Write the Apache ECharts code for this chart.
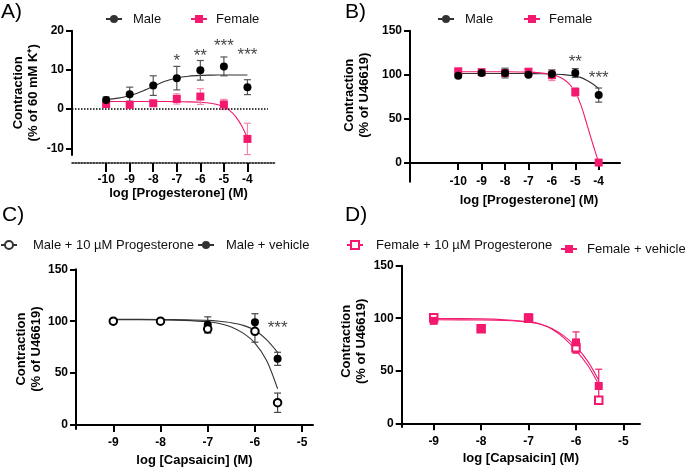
<!DOCTYPE html>
<html><head><meta charset="utf-8">
<script src="https://cdn.jsdelivr.net/npm/echarts@6/dist/echarts.min.js"></script>
<style>html,body{margin:0;padding:0;background:#fff}#c{width:685px;height:468px}</style>
</head><body><div id="c"></div><script>
// ---------- data ----------
const xProg = [-10, -9, -8, -7, -6, -5, -4];
const xCap = [-9, -8, -7, -6, -5.52];
const progTicks = [-10, -9, -8, -7, -6, -5, -4];
const capTicks = [-9, -8, -7, -6, -5];
const aYTicks = [-10, 0, 10, 20];
const bYTicks = [0, 50, 100, 150];

// Panel A (% of 60 mM K+)
const aMaleY = [2.3, 3.8, 6.0, 7.9, 9.9, 10.9, 5.6];
const aMaleE = [0.8, 1.8, 2.5, 3.0, 2.5, 2.4, 1.9];
const aFemY = [1.3, 1.1, 1.5, 2.6, 3.2, 1.2, -7.6];
const aFemE = [0.5, 0.4, 0.5, 1.3, 2.0, 1.3, 4.0];
const aMaleFitX = [-10, -9.5, -9, -8.5, -8, -7.5, -7, -6.5, -6, -5.5, -5, -4.5, -4];
const aMaleFitY = [2.4, 2.8, 3.4, 4.5, 5.8, 7.1, 7.95, 8.4, 8.6, 8.67, 8.7, 8.7, 8.7];
const aFemFitX = [-10, -9, -8, -7, -6.5, -6, -5.5, -5.25, -5, -4.75, -4.5, -4.25, -4];
const aFemFitY = [1.95, 1.95, 1.95, 1.9, 1.85, 1.75, 1.45, 1.1, 0.55, -0.4, -1.9, -4.2, -7.4];
const aStarX = [-7, -6, -5, -4];
const aStarY = [12.1, 13.4, 15.9, 13.6];
const aStarT = ['*', '**', '***', '***'];

// Panel B (% of U46619)
const bMaleY = [99, 102, 102, 100, 101, 102, 77];
const bMaleE = [1.5, 1.5, 5.5, 1.5, 4.5, 5, 8];
const bFemY = [104, 103, 102, 103.5, 99.5, 80.5, 0.5];
const bFemE = [2, 1.5, 2, 2, 6, 5, 1];
const bMaleFitX = [-10, -9, -8, -7, -6.5, -6, -5.5, -5, -4.75, -4.5, -4.25, -4];
const bMaleFitY = [101.5, 101.5, 101.5, 101.4, 101.2, 100.9, 100.2, 98.6, 96.8, 93.5, 89.5, 84.5];
const bFemFitX = [-10, -9, -8, -7, -6.5, -6, -5.75, -5.5, -5.25, -5, -4.75, -4.5, -4.25, -4];
const bFemFitY = [103.5, 103.5, 103.4, 103, 102.2, 100.3, 98.3, 95, 89.5, 80.5, 65, 43.5, 21.5, 0.5];
const bStarX = [-5, -4];
const bStarY = [114.7, 95.8];
const bStarT = ['**', '***'];

// Panel C (male, capsaicin)
const cVehY = [100, 100, 96.7, 98.9, 63.8];
const cVehE = [1, 1, 7.5, 8.3, 6.3];
const cProY = [100, 100, 92.6, 90.3, 21.5];
const cProE = [1, 1, 4, 10.5, 9.3];
const cFitX = [-9, -8, -7.5, -7, -6.75, -6.5, -6.25, -6, -5.75, -5.52];
const cVehFitY = [101.8, 101.7, 101.4, 100.8, 99.9, 98.5, 96, 91.3, 82, 70];
const cProFitY = [101.5, 101.3, 100.8, 99.5, 97.8, 94.5, 88.5, 79, 62, 35];
const cStarX = [-5.52];
const cStarY = [93.3];
const cStarT = ['***'];

// Panel D (female, capsaicin)
const dVehY = [97.5, 90.5, 101, 77, 35.5];
const dVehE = [1, 1.5, 2, 10, 16];
const dProY = [100.5, 90, 100, 72, 22];
const dProE = [1, 1.5, 1.5, 5, 2];
const dFitX = [-9, -8, -7.5, -7, -6.75, -6.5, -6.25, -6, -5.75, -5.52];
const dVehFitY = [98.6, 98.3, 97.8, 96.3, 94.3, 90, 83, 73, 59, 41];
const dProFitY = [99.8, 99.4, 98.6, 96.8, 94.5, 89.5, 81, 69.5, 55, 37];

// ---------- styling ----------
const PINK = '#F2196F';
const PINK_ERR = '#F585AE';
const BLACK = '#000';
const GREY = '#333';
const FONT = 'Liberation Sans, Arial, sans-serif';

const zip = (xs, ys) => xs.map((x, i) => [x, ys[i]]);

function curve(idx, name, xs, ys, color, symbol) {
  return { type: 'line', name, xAxisIndex: idx, yAxisIndex: idx, data: zip(xs, ys),
    smooth: 0.3, showSymbol: false, symbol, symbolSize: 8,
    lineStyle: { width: 1.1, color }, itemStyle: { color }, z: 2, silent: true, animation: false };
}
function marks(idx, xs, ys, color, symbol, size) {
  const empty = symbol.indexOf('empty') === 0;
  return { type: 'scatter', xAxisIndex: idx, yAxisIndex: idx, data: zip(xs, ys), symbol,
    symbolSize: size, itemStyle: { color, borderColor: color, borderWidth: empty ? 1.6 : 0, opacity: 1 },
    z: 5, silent: true, animation: false };
}
function errs(idx, xs, ys, es, color) {
  return { type: 'custom', xAxisIndex: idx, yAxisIndex: idx, z: 4, silent: true, animation: false,
    data: xs.map((x, i) => [x, ys[i], es[i]]), encode: { x: 0, y: 1 }, clip: false,
    renderItem: (params, api) => {
      const xv = api.value(0), yv = api.value(1), ev = api.value(2);
      const t = api.coord([xv, yv + ev]), b = api.coord([xv, yv - ev]);
      const w = 3.5, st = { stroke: color, lineWidth: 1.2 };
      return { type: 'group', children: [
        { type: 'line', shape: { x1: t[0], y1: t[1], x2: b[0], y2: b[1] }, style: st },
        { type: 'line', shape: { x1: t[0] - w, y1: t[1], x2: t[0] + w, y2: t[1] }, style: st },
        { type: 'line', shape: { x1: b[0] - w, y1: b[1], x2: b[0] + w, y2: b[1] }, style: st }
      ]};
    } };
}
function stars(idx, xs, ys, ts) {
  return { type: 'scatter', xAxisIndex: idx, yAxisIndex: idx, data: zip(xs, ys), symbolSize: 1,
    itemStyle: { color: 'rgba(0,0,0,0)' }, z: 6, silent: true, animation: false,
    label: { show: true, position: 'inside', formatter: p => ts[p.dataIndex],
      fontSize: 17, color: '#111', fontFamily: FONT } };
}
function lbl(ticks, margin) {
  return { customValues: ticks, color: BLACK, fontWeight: 'bold', fontSize: 12, fontFamily: FONT, margin };
}
function xAx(idx, min, max, ticks, opts) {
  return Object.assign({ type: 'value', gridIndex: idx, min, max,
    axisLine: { onZero: true, lineStyle: { color: BLACK, width: 2 } },
    axisTick: { customValues: ticks, length: 7, lineStyle: { color: BLACK, width: 2 } },
    axisLabel: lbl(ticks, 11),
    splitLine: { show: false }, nameLocation: 'middle',
    nameTextStyle: { color: BLACK, fontWeight: 'bold', fontSize: 13, fontFamily: FONT } }, opts);
}
function yAx(idx, min, max, ticks, name, gap, pad) {
  return { type: 'value', gridIndex: idx, min, max,
    axisLine: { onZero: false, lineStyle: { color: BLACK, width: 2 } },
    axisTick: { customValues: ticks, length: 6, lineStyle: { color: BLACK, width: 2 } },
    axisLabel: lbl(ticks, 8),
    splitLine: { show: false }, name, nameLocation: 'middle', nameRotate: 90, nameGap: gap,
    nameTextStyle: { color: BLACK, fontWeight: 'bold', fontSize: 13, lineHeight: 15, fontFamily: FONT, padding: [0, 0, 0, pad] } };
}
function leg(name, left, top, padL) {
  return { data: [name], left, top, itemWidth: 16, itemHeight: 10, padding: 0, selectedMode: false,
    textStyle: { fontSize: 13, color: '#111', fontFamily: FONT, lineHeight: 14, padding: [0, 0, 0, padL] } };
}
const letter = (t, left, top) => ({ text: t, left, top, padding: 0,
  textStyle: { fontSize: 21, fontWeight: 'normal', color: '#000', fontFamily: FONT } });

const aZero = curve(0, 'zeroA', [], [], BLACK, 'none');
aZero.markLine = { silent: true, symbol: 'none', label: { show: false },
  lineStyle: { type: 'dotted', color: BLACK, width: 1.5 },
  data: [[{ coord: [-11.45, 0] }, { coord: [-3.13, 0] }]] };

const option = {
  animation: false,
  textStyle: { fontFamily: FONT },
  title: [letter('A)', 1, 2), letter('B)', 345, 2), letter('C)', 2, 205), letter('D)', 345, 205)],
  legend: [
    leg('Male', 105, 12, 6), leg('Female', 190, 12, 4),
    leg('Male', 437, 12, 6), leg('Female', 523, 12, 4),
    leg('Male + 10 µM Progesterone', 0, 238, 11), leg('Male + vehicle', 197, 238, 7),
    leg('Female + 10 µM Progesterone', 346, 238, 8), leg('Female + vehicle', 560, 242, 5)
  ],
  grid: [
    { left: 72, top: 30.7, width: 203, height: 124.3 },
    { left: 410, top: 30.7, width: 210, height: 151 },
    { left: 76, top: 269.3, width: 237, height: 160.7 },
    { left: 401.7, top: 265.7, width: 238.3, height: 161.3 }
  ],
  xAxis: [
    xAx(0, -11.45, -2.83, progTicks, { offset: 8, name: 'log [Progesterone] (M)', nameGap: 22,
      axisLine: { onZero: false, lineStyle: { color: BLACK, width: 1.5, type: 'dotted' } },
      axisTick: { customValues: progTicks, length: 9, lineStyle: { color: BLACK, width: 2 } },
      nameTextStyle: { color: BLACK, fontWeight: 'bold', fontSize: 13, fontFamily: FONT, padding: [0, 0, 0, 10] } }),
    xAx(1, -12.06, -3.09, progTicks, { name: 'log [Progesterone] (M)', nameGap: 12,
      axisLabel: lbl(progTicks, -6),
      nameTextStyle: { color: BLACK, fontWeight: 'bold', fontSize: 13, fontFamily: FONT, padding: [0, 0, 0, 28] } }),
    xAx(2, -9.79, -4.77, capTicks, { name: 'log [Capsaicin] (M)', nameGap: 25, axisLabel: lbl(capTicks, 7.7) }),
    xAx(3, -9.675, -4.65, capTicks, { name: 'log [Capsaicin] (M)', nameGap: 25, axisLabel: lbl(capTicks, 9) })
  ],
  yAxis: [
    yAx(0, -11.7, 20, aYTicks, 'Contraction\n(% of 60 mM K⁺)', 31, 0),
    yAx(1, -21.2, 150, bYTicks, 'Contraction\n(% of U46619)', 38, 22),
    yAx(2, -3.8, 150, bYTicks, 'Contraction\n(% of U46619)', 31.5, 0),
    yAx(3, -3.5, 150, bYTicks, 'Contraction\n(% of U46619)', 32.5, 10)
  ],
  series: [
    aZero,
    curve(0, 'Male', aMaleFitX, aMaleFitY, GREY, 'circle'),
    curve(0, 'Female', aFemFitX, aFemFitY, PINK, 'rect'),
    errs(0, xProg, aMaleY, aMaleE, '#555'),
    errs(0, xProg, aFemY, aFemE, PINK_ERR),
    marks(0, xProg, aFemY, PINK, 'rect', 8),
    marks(0, xProg, aMaleY, BLACK, 'circle', 8),
    stars(0, aStarX, aStarY, aStarT),

    curve(1, 'Male', bMaleFitX, bMaleFitY, GREY, 'circle'),
    curve(1, 'Female', bFemFitX, bFemFitY, PINK, 'rect'),
    errs(1, xProg, bFemY, bFemE, PINK_ERR),
    errs(1, xProg, bMaleY, bMaleE, '#555'),
    marks(1, xProg, bFemY, PINK, 'rect', 8),
    marks(1, xProg, bMaleY, BLACK, 'circle', 8),
    stars(1, bStarX, bStarY, bStarT),

    curve(2, 'Male + 10 µM Progesterone', cFitX, cProFitY, GREY, 'emptyCircle'),
    curve(2, 'Male + vehicle', cFitX, cVehFitY, GREY, 'circle'),
    errs(2, xCap, cProY, cProE, '#444'),
    errs(2, xCap, cVehY, cVehE, '#444'),
    marks(2, xCap, cVehY, BLACK, 'circle', 8),
    marks(2, xCap, cProY, BLACK, 'emptyCircle', 7.5),
    stars(2, cStarX, cStarY, cStarT),

    curve(3, 'Female + 10 µM Progesterone', dFitX, dProFitY, PINK, 'emptyRect'),
    curve(3, 'Female + vehicle', dFitX, dVehFitY, PINK, 'rect'),
    errs(3, xCap, dProY, dProE, PINK),
    errs(3, xCap, dVehY, dVehE, PINK),
    marks(3, xCap, dProY, PINK, 'emptyRect', 7.5),
    marks(3, xCap, dVehY, PINK, 'rect', 8)
  ]
};
const chart = echarts.init(document.getElementById('c'), null, { renderer: 'canvas' });
chart.setOption(option);
</script></body></html>
